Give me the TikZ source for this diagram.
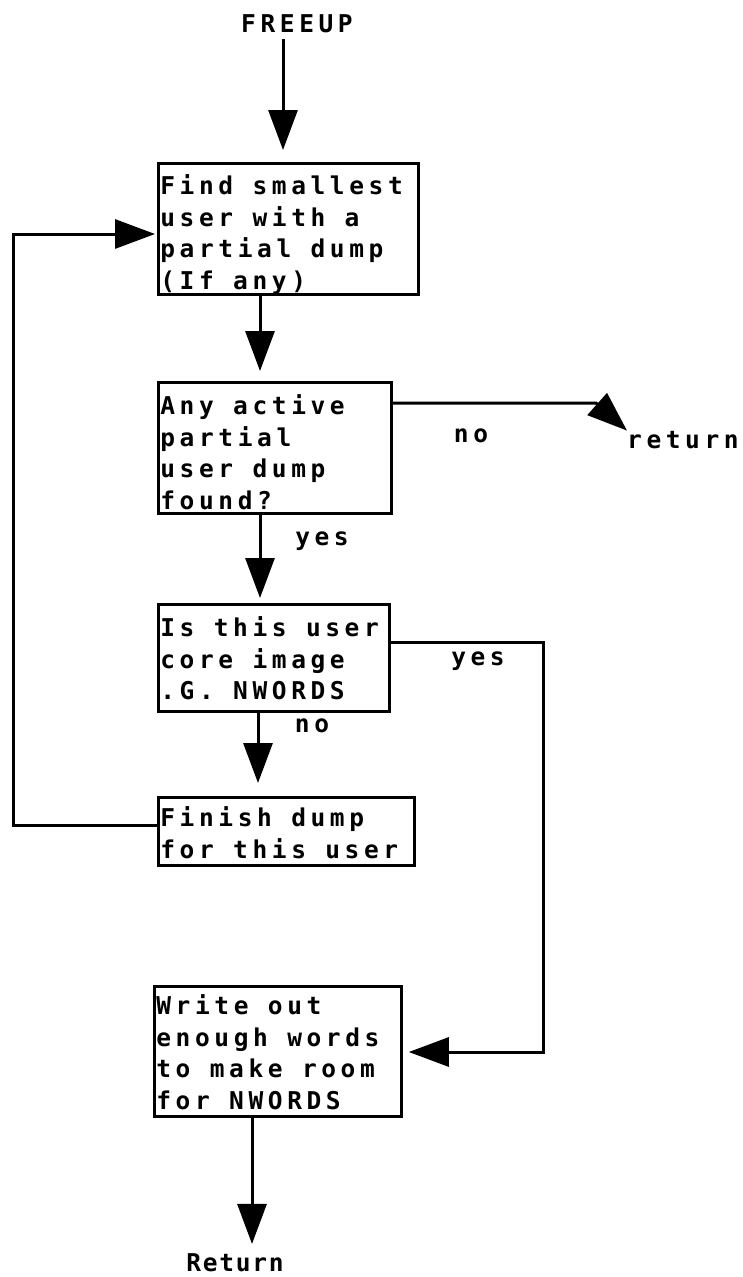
\documentclass[tikz,border=0pt]{standalone}
\usepackage{fontspec}
\usetikzlibrary{arrows.meta}
\newfontfamily\typewr[LetterSpace=18.8]{DejaVu Sans Mono Bold}
\newfontfamily\typewrnarrow[LetterSpace=7]{DejaVu Sans Mono Bold}
\newcommand{\boxfont}{\typewr\fontsize{24.5pt}{31.6pt}\selectfont}
\newcommand{\narrowfont}{\typewrnarrow\fontsize{24.5pt}{31.6pt}\selectfont}
\newcommand{\wsp}{\hspace{19.35pt}}
\tikzset{
  flowbox/.style={draw, line width=2.8pt, anchor=north west, inner xsep=2pt,
    inner ysep=0pt, align=left, font=\boxfont, text width=#1},
  lbl/.style={inner sep=0pt, anchor=base, font=\boxfont},
  arr/.style={line width=3pt, -{Triangle[length=40pt,width=29pt]}},
}
\begin{document}
\begin{tikzpicture}[x=1pt,y=-1pt]
\fill[white] (0,0) rectangle (742,1277);
\useasboundingbox (0,0) rectangle (742,1277);

\node[lbl] (freeup) at (297,32) {FREEUP};

\node[flowbox=256pt] (b1) at (157,162)
  {\rule{0pt}{31pt}\mbox{Find\wsp smallest}\\\mbox{user\wsp with\wsp a}\\\mbox{partial\wsp dump}\\\mbox{(If\wsp any)}\rule[-5.2pt]{0pt}{5.2pt}};
\node[flowbox=229pt] (b2) at (157,381)
  {\rule{0pt}{32pt}\mbox{Any\wsp active}\\\mbox{partial}\\\mbox{user\wsp dump}\\\mbox{found?}\rule[-4.2pt]{0pt}{4.2pt}};
\node[flowbox=227pt] (b3) at (157,603)
  {\rule{0pt}{32pt}\mbox{Is\wsp this\wsp user}\\\mbox{core\wsp image}\\\mbox{.G.\wsp NWORDS}\rule[-11.8pt]{0pt}{11.8pt}};
\node[flowbox=252pt] (b4) at (157,796)
  {\rule{0pt}{29.5pt}\mbox{Finish\wsp dump}\\\mbox{for\wsp this\wsp user}\rule[-6.9pt]{0pt}{6.9pt}};
\node[flowbox=243pt] (b5) at (153,985)
  {\rule{0pt}{28pt}\mbox{Write\wsp out}\\\mbox{enough\wsp words}\\\mbox{to\wsp make\wsp room}\\\mbox{for\wsp NWORDS}\rule[-7.2pt]{0pt}{7.2pt}};

\node[lbl, anchor=base west] (ret1) at (627,448) {return};
\node[lbl] (no1) at (471,442) {no};
\node[lbl] (yes1) at (322,545) {yes};
\node[lbl] (yes2) at (478,665) {yes};
\node[lbl] (no2) at (312,732) {no};
\node[lbl, font=\narrowfont] (ret2) at (235,1271) {Return};

\draw[arr, shorten <=6pt, shorten >=12pt] (freeup.south -| 283,0) -- (b1.north -| 283,0);
\draw[arr, shorten >=10pt] (b1.south -| 260,0) -- (b2.north -| 260,0);
\draw[arr] (b2.east |- 0,403) -- (596,403) -- (ret1.north west);
\draw[arr, shorten >=5pt] (b2.south -| 260,0) -- (b3.north -| 260,0);
\draw[arr, shorten >=6pt] (b3.east |- 0,642) -- (543,642) -- (543,1052) -- (b5.east |- 0,1052);
\draw[arr, shorten >=13pt] (b3.south -| 258,0) -- (b4.north -| 258,0);
\draw[arr, shorten >=2pt] (b4.west |- 0,825) -- (13,825) -- (13,234) -- (b1.west |- 0,234);
\draw[arr, shorten >=9pt] (b5.south -| 252,0) -- (ret2.north -| 252,0);
\end{tikzpicture}
\end{document}
